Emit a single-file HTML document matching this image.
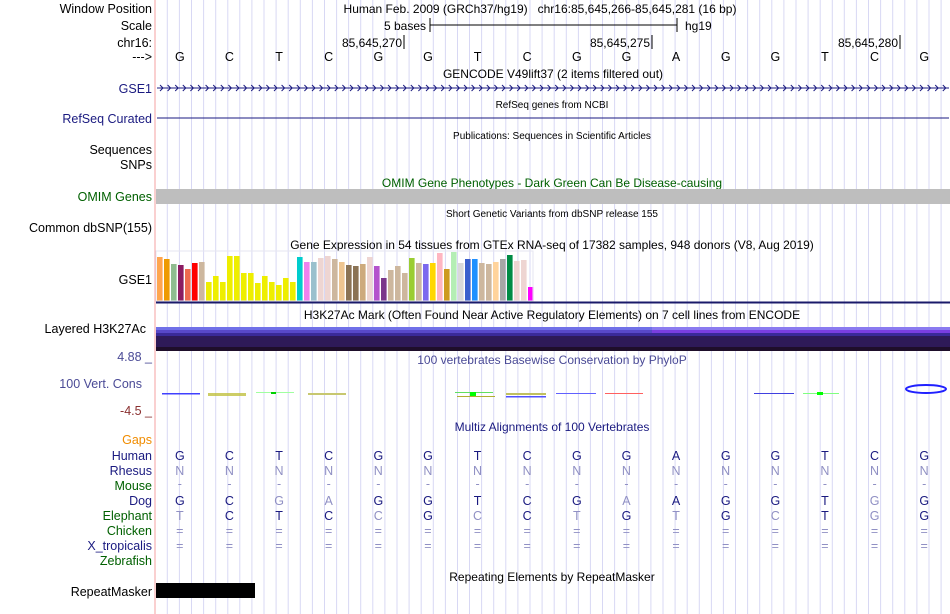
<!DOCTYPE html>
<html><head><meta charset="utf-8"><style>
body{margin:0;background:#fff;}
svg{display:block;font-family:"Liberation Sans",sans-serif;}
</style></head><body>
<svg id="c" width="950" height="614" viewBox="0 0 950 614" xmlns="http://www.w3.org/2000/svg">
<g id="grid"></g>
<line x1="155" y1="0" x2="155" y2="614" stroke="#f4a0a0" stroke-width="1"/>
<g id="labels" font-size="12.5" text-anchor="end">
<text x="152" y="13" fill="#000">Window Position</text>
<text x="152" y="30" fill="#000">Scale</text>
<text x="152" y="47" fill="#000">chr16:</text>
<text x="152" y="61" fill="#000">---&gt;</text>
<text x="152" y="93" fill="#1a1a80">GSE1</text>
<text x="152" y="123" fill="#1a1a80">RefSeq Curated</text>
<text x="152" y="154" fill="#000">Sequences</text>
<text x="152" y="169" fill="#000">SNPs</text>
<text x="152" y="201" fill="#006000">OMIM Genes</text>
<text x="152" y="232" fill="#000">Common dbSNP(155)</text>
<text x="152" y="284" fill="#000">GSE1</text>
<text x="146" y="333" fill="#000">Layered H3K27Ac</text>
<text x="152" y="361" fill="#4a4a96">4.88 _</text>
<text x="142" y="388" fill="#4a4a96">100 Vert. Cons</text>
<text x="152" y="415" fill="#8a3030">-4.5 _</text>
<text x="152" y="444" fill="#f08c00">Gaps</text>
<text x="152" y="460" fill="#1a1a80">Human</text>
<text x="152" y="475" fill="#1a1a80">Rhesus</text>
<text x="152" y="490" fill="#006000">Mouse</text>
<text x="152" y="505" fill="#1a1a80">Dog</text>
<text x="152" y="520" fill="#006000">Elephant</text>
<text x="152" y="535" fill="#006000">Chicken</text>
<text x="152" y="550" fill="#1a1a80">X_tropicalis</text>
<text x="152" y="565" fill="#006000">Zebrafish</text>
<text x="152" y="596" fill="#000">RepeatMasker</text>
</g>
<g font-size="12" text-anchor="middle">
<text x="540" y="13">Human Feb. 2009 (GRCh37/hg19)&#160;&#160;&#160;chr16:85,645,266-85,645,281 (16 bp)</text>
<text x="553" y="78">GENCODE V49lift37 (2 items filtered out)</text>
<text x="552" y="108" font-size="10">RefSeq genes from NCBI</text>
<text x="552" y="139" font-size="10">Publications: Sequences in Scientific Articles</text>
<text x="552" y="187" fill="#006000">OMIM Gene Phenotypes - Dark Green Can Be Disease-causing</text>
<text x="552" y="217" font-size="10">Short Genetic Variants from dbSNP release 155</text>
<text x="552" y="249">Gene Expression in 54 tissues from GTEx RNA-seq of 17382 samples, 948 donors (V8, Aug 2019)</text>
<text x="552" y="319">H3K27Ac Mark (Often Found Near Active Regulatory Elements) on 7 cell lines from ENCODE</text>
<text x="552" y="364" fill="#4a4a96">100 vertebrates Basewise Conservation by PhyloP</text>
<text x="552" y="431" fill="#1a1a80">Multiz Alignments of 100 Vertebrates</text>
<text x="552" y="581">Repeating Elements by RepeatMasker</text>
</g>
<g font-size="12">
<text x="426" y="30" text-anchor="end">5 bases</text>
<line x1="430" y1="25" x2="677" y2="25" stroke="#000"/>
<line x1="430" y1="18" x2="430" y2="32" stroke="#000"/>
<line x1="677" y1="18" x2="677" y2="32" stroke="#000"/>
<text x="685" y="30">hg19</text>
<text x="402" y="47" text-anchor="end">85,645,270</text>
<line x1="404" y1="35" x2="404" y2="49" stroke="#000"/>
<text x="650" y="47" text-anchor="end">85,645,275</text>
<line x1="652" y1="35" x2="652" y2="49" stroke="#000"/>
<text x="898" y="47" text-anchor="end">85,645,280</text>
<line x1="900" y1="35" x2="900" y2="49" stroke="#000"/>
</g>
<g id="seq" font-size="12.5" text-anchor="middle"></g>
<g id="gencode"></g>
<line x1="157" y1="118" x2="949" y2="118" stroke="#1a1a80"/>
<rect x="156" y="189" width="794" height="15" fill="#bebebe"/>
<g id="gtex"></g>
<line x1="156" y1="302.5" x2="950" y2="302.5" stroke="#1a1a6a" stroke-width="2"/>
<g>
<rect x="156" y="327" width="794" height="3" fill="#7070e8"/>
<rect x="652" y="327" width="298" height="3" fill="#8a7af0"/>
<rect x="156" y="330" width="794" height="3" fill="#5848c8"/>
<rect x="652" y="330" width="298" height="4" fill="#7a3ee0"/>
<rect x="156" y="333" width="794" height="3" fill="#3a2a98"/>
<rect x="156" y="336" width="794" height="11" fill="#2e1a58"/>
<rect x="156" y="347" width="794" height="4" fill="#1e0e2a"/>
</g>
<g id="phylo">
<rect x="162" y="393" width="38" height="1.5" fill="#4040ff"/>
<rect x="208" y="393" width="38" height="3" fill="#c0c040" opacity="0.8"/>
<rect x="256" y="392" width="38" height="1" fill="#a0ffa0"/>
<rect x="271" y="392" width="5" height="2" fill="#00d000"/>
<rect x="308" y="393" width="38" height="2" fill="#c8c870"/>
<rect x="455" y="392" width="38" height="1" fill="#60e060"/>
<rect x="470" y="392" width="6" height="5" fill="#00ff00"/>
<rect x="457" y="396" width="38" height="1" fill="#b0b030"/>
<rect x="506" y="393" width="40" height="2" fill="#c0c060"/>
<rect x="506" y="396" width="40" height="1.5" fill="#5050ff"/>
<rect x="556" y="393" width="40" height="1" fill="#6060ff"/>
<rect x="605" y="393" width="38" height="1" fill="#ff6060"/>
<rect x="754" y="393" width="40" height="1" fill="#4040e0"/>
<rect x="803" y="393" width="36" height="1" fill="#80ff80"/>
<rect x="817" y="392" width="6" height="3" fill="#00ff00"/>
<ellipse cx="926" cy="389" rx="20" ry="4" fill="none" stroke="#2020ff" stroke-width="2"/>
</g>
<g id="maf" font-size="12.5" text-anchor="middle"></g>
<rect x="156" y="583" width="99" height="15" fill="#000"/>
<script>
var bases = ["G","C","T","C","G","G","T","C","G","G","A","G","G","T","C","G"];
var dogSeq = ["G","C","G","A","G","G","T","C","G","A","A","G","G","T","G","G"];
var dogMatch = [1,1,0,0,1,1,1,1,1,0,1,1,1,1,0,1];
var eleSeq = ["T","C","T","C","C","G","C","C","T","G","T","G","C","T","G","G"];
var eleMatch = [0,1,1,1,0,1,0,1,0,1,0,1,0,1,0,1];
var gtexValues = [44,42,37,36,32,38,39,19,25,19,45,45,28,28,18,25,19,16,23,19,44,39,39,43,45,42,39,36,35,37,44,35,23,31,35,28,43,38,37,38,48,32,49,38,42,42,38,37,39,42,46,40,41,14];
var gtexColors = ["#ffa54f","#ee9a00","#8fbc8f","#8b1c62","#ee6a50","#ff0000","#cdb79e","#eeee00","#eeee00","#eeee00","#eeee00","#eeee00","#eeee00","#eeee00","#eeee00","#eeee00","#eeee00","#eeee00","#eeee00","#eeee00","#00cdcd","#ee82ee","#9ac0cd","#eed5d2","#eed5d2","#cdb79e","#eec591","#8b7355","#8b7355","#cdaa7d","#eed5d2","#b452cd","#7a378b","#cdb79e","#cdb79e","#cdb79e","#9acd32","#cdb79e","#7b68ee","#ffd700","#ffb6c1","#cd9b1d","#b4eeb4","#d9d9d9","#3a5fcd","#1e90ff","#cdb79e","#cdb79e","#ffd39b","#a6a6a6","#008b45","#eed5d2","#eed5d2","#ff00ff"];
var NS="http://www.w3.org/2000/svg";
var x0=156, bw=(950-156)/16;
function bx(i){return x0+bw*(i+0.5);}
function mk(tag,attrs,parent){var e=document.createElementNS(NS,tag);for(var k in attrs)e.setAttribute(k,attrs[k]);parent.appendChild(e);return e;}
var grid=document.getElementById('grid');
for(var gx=167.3;gx<950;gx+=12.09){var l=mk('line',{x1:gx.toFixed(1),y1:0,x2:gx.toFixed(1),y2:614,stroke:'#d8d8f4','stroke-width':1},grid);

}
var seq=document.getElementById('seq');
bases.forEach(function(b,i){var t=mk('text',{x:bx(i)-1,y:61},seq);t.textContent=b;

});
var gc=document.getElementById('gencode');
var gl=mk('line',{x1:157,y1:88,x2:949,y2:88,stroke:'#1a1a80'},gc);


for(var cx=160;cx<948;cx+=7.6){var p=mk('path',{d:'M'+cx.toFixed(1)+' 85 L'+(cx+3).toFixed(1)+' 88 L'+cx.toFixed(1)+' 91',fill:'none',stroke:'#1a1a80','stroke-width':1},gc);

}
var gt=document.getElementById('gtex');
var gBase=301, gStep=7.0, gW=5.6;
gtexValues.forEach(function(v,i){var r=mk('rect',{x:(157+gStep*i).toFixed(1),y:gBase-v,width:gW,height:v,fill:gtexColors[i]},gt);

});
var fr=mk('rect',{x:156,y:251,width:377,height:50,fill:'none',stroke:'#e6e6f0','stroke-width':1},gt);


var maf=document.getElementById('maf');
var DARK='#1a1a80', LIGHT='#9090c4';
function row(y,chars,flags,name){chars.forEach(function(c,i){var t=mk('text',{x:bx(i)-1,y:y,fill:flags[i]?DARK:LIGHT},maf);t.textContent=c;

});}
row(460,bases,bases.map(function(){return 1;}),'human');
row(475,bases.map(function(){return 'N';}),bases.map(function(){return 0;}),'rhesus');
row(488,bases.map(function(){return '-';}),bases.map(function(){return 0;}),'mouse');
row(505,dogSeq,dogMatch,'dog');
row(520,eleSeq,eleMatch,'elephant');
row(535,bases.map(function(){return '=';}),bases.map(function(){return 0;}),'chicken');
row(550,bases.map(function(){return '=';}),bases.map(function(){return 0;}),'xtropicalis');
</script>
</svg>
</body></html>
